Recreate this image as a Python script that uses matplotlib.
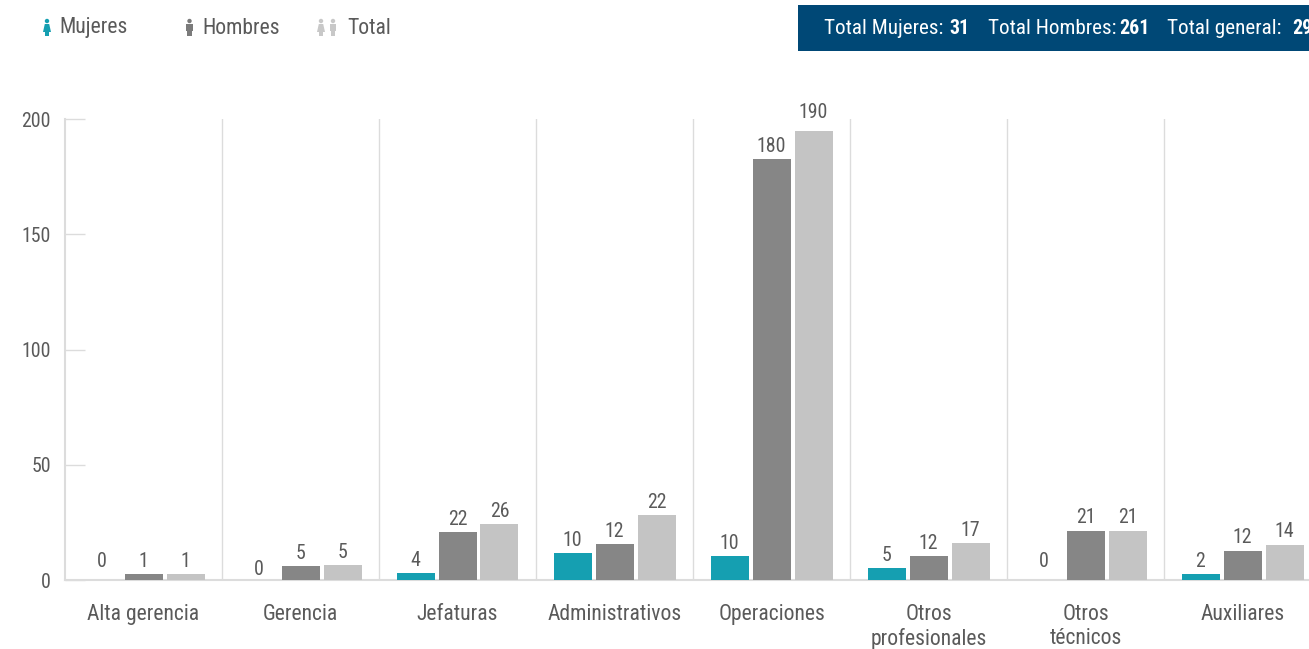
import matplotlib
matplotlib.use("Agg")
import matplotlib.pyplot as plt
from matplotlib.patches import Circle, Polygon, Rectangle
import numpy as np

categories = ["Alta gerencia", "Gerencia", "Jefaturas", "Administrativos", "Operaciones",
              "Otros\nprofesionales", "Otros\ntécnicos", "Auxiliares"]
# drawn heights (they differ a bit from the printed numbers)
mujeres = [0, 0, 3, 11.7, 10.4, 5.2, 0, 2.6]
hombres = [2.6, 6, 20.8, 15.6, 182.6, 10.4, 21.3, 12.6]
total = [2.6, 6.5, 24.3, 28, 195, 16, 21.3, 15.2]
# printed numbers
mujeres_lab = [0, 0, 4, 10, 10, 5, 0, 2]
hombres_lab = [1, 5, 22, 12, 180, 12, 21, 12]
total_lab = [1, 5, 26, 22, 190, 17, 21, 14]
yticks = [0, 50, 100, 150, 200]

W, H = 1309, 649
TEXT = "#5a5a5a"
GRID = "#dcdcdc"
plt.rcParams["font.family"] = ["Roboto Condensed", "Liberation Sans", "DejaVu Sans"]
FS = 14.3
FS_WORDS = 15.6

fig = plt.figure(figsize=(W / 100, H / 100), dpi=100)
# axes runs past the right edge, the last group is cut off like in the original
ax = fig.add_axes([65 / W, 1 - 580 / H, 1256 / W, 461 / H])
ax.set_xlim(-0.5, 7.5)
ax.set_ylim(0, 200)

x = np.arange(len(categories))
bw = 38 / 157
step = 42 / 157
series = [(mujeres, mujeres_lab, "#159fb1", -step), (hombres, hombres_lab, "#868686", 0),
          (total, total_lab, "#c4c4c4", step)]
for vals, labs, col, off in series:
    ax.bar(x + off, vals, bw, color=col, zorder=3)
    for i in range(len(vals)):
        up = 2.5
        # zeros and the tallest bar sit at odd heights in the original
        if labs[i] == 0:
            up = 0.5 if i == 1 else 6.5
        if labs[i] == 190:
            up = 5.8
        ax.annotate(str(labs[i]), (x[i] + off, vals[i]), xytext=(0, up), textcoords="offset points",
                    ha="center", va="bottom", fontsize=FS, color=TEXT, clip_on=False, annotation_clip=False)

for s in ["top", "right"]:
    ax.spines[s].set_visible(False)
for s in ["left", "bottom"]:
    ax.spines[s].set_color(GRID)
    ax.spines[s].set_linewidth(1.5)
for b in x[1:] - 0.5:
    ax.axvline(b, color=GRID, lw=1, zorder=1)

ax.set_yticks(yticks)
ax.set_yticklabels([str(v) for v in yticks], fontsize=FS, color=TEXT)
ax.tick_params(axis="y", direction="in", length=14.4, width=1, color=GRID, pad=10)
ax.set_xticks(x)
ax.set_xticklabels(categories, fontsize=FS_WORDS, color=TEXT, linespacing=1.22)
ax.tick_params(axis="x", length=0, pad=17)

# overlay in pixel coordinates for the legend and the banner
ov = fig.add_axes([0, 0, 1, 1], facecolor="none")
ov.set_xlim(0, W)
ov.set_ylim(H, 0)
ov.axis("off")


def person(cx, col, woman=False):
    ov.add_patch(Circle((cx, 21), 2.2, color=col, lw=0))
    if woman:
        ov.add_patch(Polygon([(cx - 2.2, 24), (cx + 2.2, 24), (cx + 4, 32), (cx - 4, 32)], color=col, lw=0))
        ov.add_patch(Rectangle((cx - 2, 32), 4, 3.5, color=col, lw=0))
    else:
        ov.add_patch(Rectangle((cx - 3.4, 24), 6.8, 6.5, color=col, lw=0))
        ov.add_patch(Rectangle((cx - 2.2, 30), 4.4, 5.5, color=col, lw=0))


person(47, "#159fb1", woman=True)
person(189.5, "#7b7b7b")
person(321, "#c8c8c8", woman=True)
person(333, "#c8c8c8")
for tx, s in [(59, "Mujeres"), (202, "Hombres"), (347, "Total")]:
    ov.text(tx, 28, s, fontsize=FS_WORDS, color=TEXT, va="center")

ov.add_patch(Rectangle((798, 5), 600, 46, color="#004876", lw=0))
for tx, s, w in [(824, "Total Mujeres:", "normal"), (949, "31", "bold"),
                 (988, "Total Hombres:", "normal"), (1119, "261", "bold"),
                 (1167, "Total general:", "normal"), (1292, "292", "bold")]:
    ov.text(tx, 28, s, fontsize=15.2 if w == "normal" else 14.3, color="white", va="center", fontweight=w)

fig.savefig("out.png", dpi=100)
